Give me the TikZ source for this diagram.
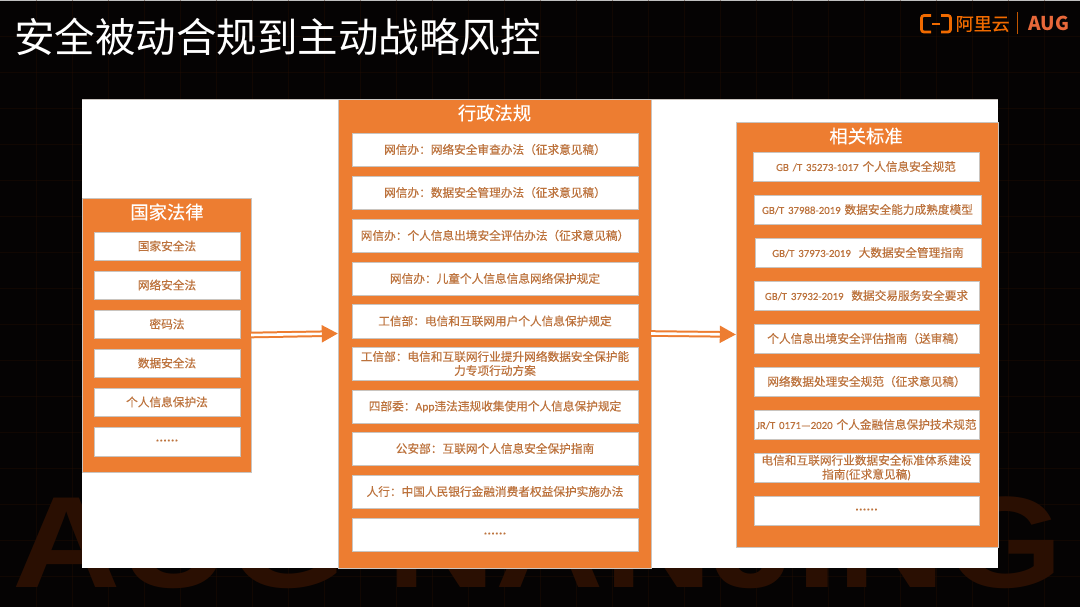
\documentclass[tikz,border=0pt]{standalone}
\usepackage{fontspec}
\setmainfont{Noto Sans CJK SC}
\newfontfamily\wmfont{Liberation Sans}
\newfontfamily\itemfont{Noto Sans CJK SC}[FakeBold=0.3]
\newfontfamily\latfont{Carlito}[FakeBold=0.2]
\newfontfamily\logofont{Noto Sans CJK SC}[FakeBold=0.5]
\newcommand{\lat}[1]{{\latfont #1}}
\newcommand{\latn}[1]{{\latfont\fontsize{10.8}{14}\selectfont #1}}
\usetikzlibrary{arrows.meta}
\definecolor{bgk}{HTML}{050303}
\definecolor{acc}{HTML}{ED7D31}
\definecolor{txt}{HTML}{BC723C}
\definecolor{edge}{HTML}{C9C4BF}
\definecolor{wm}{HTML}{2A0F02}
\definecolor{logoc}{HTML}{F06A00}
\definecolor{augc}{HTML}{E8683A}
\tikzset{
  x=1pt,y=-1pt,
  panel/.style={draw=edge,line width=.4pt,fill=acc,inner sep=0pt},
  itembox/.style={draw=edge,line width=.8pt,fill=white,inner sep=0pt,align=center,text=txt,font=\itemfont\fontsize{11.67}{14}\selectfont},
  heading/.style={text=white,inner sep=0pt,font=\itemfont\fontsize{18.3}{20}\selectfont},
  flow/.style={draw=acc,line width=2pt,double=white,double distance=2.6pt,-{Triangle[length=16pt,width=17pt,fill=acc]}},
}
\newcommand{\dotsmark}{{\latfont\fontsize{15}{15}\selectfont\raisebox{2pt}{......}}}
% \bx{style}{name}{x1}{y1}{x2}{y2}{text}
\newcommand{\bx}[7]{%
  \pgfmathsetmacro{\cxx}{(#3+#5)/2}\pgfmathsetmacro{\cyy}{(#4+#6)/2}%
  \pgfmathsetmacro{\ww}{#5-#3}\pgfmathsetmacro{\hh}{#6-#4}%
  \node[#1,minimum width=\ww pt,minimum height=\hh pt,text width=\ww pt-1pt] (#2) at (\cxx,\cyy) {#7};}
\begin{document}
\begin{tikzpicture}
\useasboundingbox (0,0) rectangle (1080,607);
\fill[bgk] (0,0) rectangle (1080,607);
\fill[white!75!black] (0,0) rectangle (1080,1);
\foreach \gx in {36,72,...,1080} \draw[wm,line width=.3pt,opacity=.35] (\gx,0) -- (\gx,607);
\foreach \gy in {36,72,...,600} \draw[wm,line width=.3pt,opacity=.35] (0,\gy) -- (1080,\gy);
\node[anchor=base west,inner sep=0pt,text depth=0pt,text=wm,xscale=1.155,font=\wmfont\bfseries\fontsize{130}{130}\selectfont] (mark) at (12,587) {AUG NANJING};
\node[anchor=base west,inner sep=0pt,text=white,font=\fontsize{40.5}{44}\selectfont] (title) at (14,52.5) {安全被动合规到主动战略风控};
% logo
\draw[logoc,line width=2.8pt,rounded corners=2.5pt] (931,15.5) -- (921.5,15.5) -- (921.5,32) -- (931,32);
\draw[logoc,line width=2.8pt,rounded corners=2.5pt] (941,15.5) -- (950.5,15.5) -- (950.5,32) -- (941,32);
\draw[logoc,line width=1.6pt] (932,24) -- (940,24);
\node[anchor=west,inner sep=0pt,text=logoc,font=\logofont\fontsize{18}{20}\selectfont] (ali) at (955.5,24) {阿里云};
\draw[logoc!80!black,line width=.7pt] (1017,12) -- (1017,34);
\node[anchor=base west,inner sep=0pt,text=augc,font=\bfseries\fontsize{19}{20}\selectfont] (aug) at (1028,31) {AUG};
% canvas
\fill[white] (82,99) rectangle (998,568);
\draw[edge,line width=.6pt] (82,99) -- (998,99);
% left
\bx{panel}{law}{82}{198}{251}{472}{}
\node[heading,anchor=center] (lawt) at (167,212) {国家法律};
\bx{itembox}{l1}{94}{232}{240}{260}{国家安全法}
\bx{itembox}{l2}{94}{271}{240}{299}{网络安全法}
\bx{itembox}{l3}{94}{310}{240}{338}{密码法}
\bx{itembox}{l4}{94}{349}{240}{377}{数据安全法}
\bx{itembox}{l5}{94}{388}{240}{416}{个人信息保护法}
\bx{itembox}{l6}{94}{427}{240}{456}{\dotsmark}
% middle
\bx{panel}{reg}{338}{99}{651}{568}{}
\node[heading,anchor=center] (regt) at (494.5,113) {行政法规};
\bx{itembox}{m1}{352}{133}{638}{166}{网信办：网络安全审查办法（征求意见稿）}
\bx{itembox}{m2}{352}{176}{638}{209}{网信办：数据安全管理办法（征求意见稿）}
\bx{itembox}{m3}{352}{219}{638}{252}{网信办：个人信息出境安全评估办法（征求意见稿）}
\bx{itembox}{m4}{352}{262}{638}{295}{网信办：儿童个人信息信息网络保护规定}
\bx{itembox}{m5}{352}{304}{638}{338}{工信部：电信和互联网用户个人信息保护规定}
\bx{itembox}{m6}{352}{347}{638}{380}{工信部：电信和互联网行业提升网络数据安全保护能\\力专项行动方案}
\bx{itembox}{m7}{352}{390}{638}{423}{四部委：\lat{App}违法违规收集使用个人信息保护规定}
\bx{itembox}{m8}{352}{432}{638}{465}{公安部：互联网个人信息安全保护指南}
\bx{itembox}{m9}{352}{475}{638}{508}{人行：中国人民银行金融消费者权益保护实施办法}
\bx{itembox}{m10}{352}{518}{638}{551}{\dotsmark}
% right
\bx{panel}{std}{736}{122}{998}{547}{}
\node[heading,anchor=center] (stdt) at (866,136) {相关标准};
\bx{itembox}{r1}{753}{152}{979}{181}{\latn{GB /T 35273-1017 }个人信息安全规范}
\bx{itembox}{r2}{754}{195}{981}{224}{\latn{GB/T 37988-2019 }数据安全能力成熟度模型}
\bx{itembox}{r3}{755}{238}{981}{267}{\latn{GB/T 37973-2019 \ }大数据安全管理指南}
\bx{itembox}{r4}{754}{281}{979}{310}{\latn{GB/T 37932-2019 \ }数据交易服务安全要求}
\bx{itembox}{r5}{754}{324}{979}{353}{个人信息出境安全评估指南（送审稿）}
\bx{itembox}{r6}{754}{367}{979}{396}{网络数据处理安全规范（征求意见稿）}
\bx{itembox}{r7}{754}{410}{979}{439}{\latn{JR/T 0171—2020 }个人金融信息保护技术规范}
\bx{itembox}{r8}{754}{453}{979}{482}{电信和互联网行业数据安全标准体系建设\\指南\lat{(}征求意见稿\lat{)}}
\bx{itembox}{r9}{754}{496}{979}{525}{\dotsmark}
% connectors
\draw[flow] (law.east) -- (reg.west);
\draw[flow] (reg.east) -- (std.west);
\end{tikzpicture}
\end{document}
